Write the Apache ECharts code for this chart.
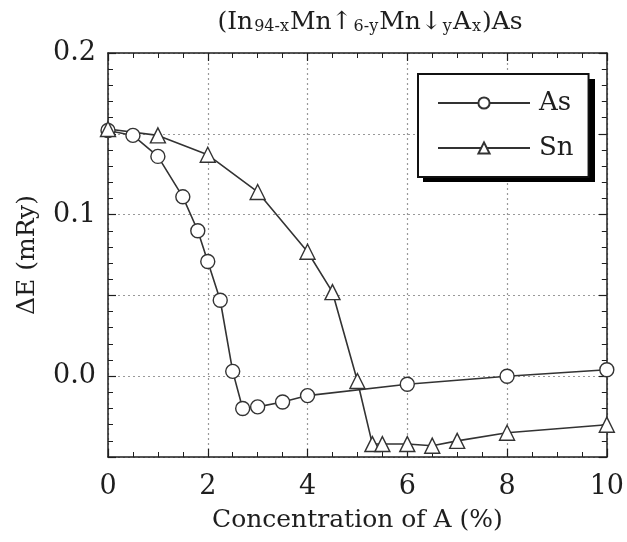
<!DOCTYPE html>
<html>
<head>
<meta charset="utf-8">
<script src="https://cdn.jsdelivr.net/npm/echarts@6/dist/echarts.min.js"></script>
<style>
  html, body { margin: 0; padding: 0; background: #fff; }
  #main { width: 627px; height: 542px; }
</style>
</head>
<body>
<div id="main"></div>
<script>
// concentration (%) / delta E (mRy)
var asX = [0, 0.5, 1.0, 1.5, 1.8, 2.0, 2.25, 2.5, 2.7, 3.0, 3.5, 4.0, 6.0, 8.0, 10.0];
var asY = [0.152, 0.149, 0.136, 0.111, 0.090, 0.071, 0.047, 0.003, -0.020, -0.019, -0.016, -0.012, -0.005, 0.000, 0.004];
var snX = [0, 1.0, 2.0, 3.0, 4.0, 4.5, 5.0, 5.3, 5.5, 6.0, 6.5, 7.0, 8.0, 10.0];
var snY = [0.153, 0.149, 0.137, 0.114, 0.077, 0.052, -0.003, -0.042, -0.042, -0.042, -0.043, -0.040, -0.035, -0.030];
var xTicks = [0, 2, 4, 6, 8, 10];
var yTicks = [0.0, 0.1, 0.2];

var FONT = '"DejaVu Serif", "Liberation Serif", serif';
var INK = '#1e1e1e';

function pairs(xs, ys) {
  return xs.map(function (x, i) { return [x, ys[i]]; });
}

var myChart = echarts.init(document.getElementById('main'));

var tickBase = { show: true, inside: true, length: 8, lineStyle: { color: INK, width: 1.2 } };
var minorBase = { show: true, length: 5, lineStyle: { color: INK, width: 1 } };
var gridDots = { show: true, lineStyle: { color: '#999', type: [2, 3], width: 1.2 } };

var option = {
  backgroundColor: '#fff',
  animation: false,
  title: {
    text: '(In{s|94-x}Mn↑{s|6-y}Mn↓{s|y}A{s|x})As',
    left: 365,
    textAlign: 'center',
    top: 4,
    textStyle: {
      fontFamily: FONT, fontSize: 25, fontWeight: 'normal', color: INK,
      rich: {
        s: { fontFamily: FONT, fontSize: 16, color: INK, verticalAlign: 'bottom', padding: [10, 1, 0, 1] }
      }
    }
  },
  grid: { left: 108, right: 19, top: 53, bottom: 85 },
  // hard black drop shadow behind the legend box
  graphic: [{
    type: 'rect', left: 423, top: 79, z: 3,
    shape: { width: 172, height: 103 },
    style: { fill: '#000' }
  }],
  legend: {
    left: 418, top: 74,
    orient: 'vertical',
    padding: [16, 15, 16, 19],
    itemGap: 19,
    itemWidth: 92,
    itemHeight: 14,
    backgroundColor: '#fff',
    borderColor: '#111',
    borderWidth: 2,
    textStyle: { fontFamily: FONT, fontSize: 26, color: INK, padding: [0, 0, 0, 4] },
    data: ['As', 'Sn']
  },
  xAxis: [{
    type: 'value', min: 0, max: 10, interval: 2,
    name: 'Concentration of A (%)', nameLocation: 'middle', nameGap: 51,
    nameTextStyle: { fontFamily: FONT, fontSize: 25, color: INK },
    axisLine: { show: true, onZero: false, lineStyle: { color: INK, width: 1.5 } },
    axisTick: tickBase,
    minorTick: Object.assign({ splitNumber: 4 }, minorBase),
    axisLabel: {
      margin: 16, fontFamily: FONT, fontSize: 27, color: INK,
      formatter: function (v) { return xTicks.indexOf(v) >= 0 ? String(v) : ''; }
    },
    splitLine: gridDots
  }, {
    type: 'value', min: 0, max: 10, interval: 2, position: 'top',
    axisLine: { show: true, onZero: false, lineStyle: { color: INK, width: 1.5 } },
    axisTick: tickBase,
    minorTick: Object.assign({ splitNumber: 4 }, minorBase),
    axisLabel: { show: false },
    splitLine: { show: false }
  }],
  yAxis: [{
    type: 'value', min: -0.05, max: 0.2, interval: 0.05,
    name: 'ΔE (mRy)', nameLocation: 'middle', nameGap: 68,
    nameTextStyle: { fontFamily: FONT, fontSize: 25, color: INK },
    axisLine: { show: true, onZero: false, lineStyle: { color: INK, width: 1.5 } },
    axisTick: tickBase,
    minorTick: Object.assign({ splitNumber: 5 }, minorBase),
    axisLabel: {
      margin: 12, fontFamily: FONT, fontSize: 27, color: INK,
      formatter: function (v) {
        for (var i = 0; i < yTicks.length; i++) {
          if (Math.abs(v - yTicks[i]) < 1e-6) return yTicks[i].toFixed(1);
        }
        return '';
      }
    },
    splitLine: gridDots
  }, {
    type: 'value', min: -0.05, max: 0.2, interval: 0.05, position: 'right',
    axisLine: { show: true, onZero: false, lineStyle: { color: INK, width: 1.5 } },
    axisTick: tickBase,
    minorTick: Object.assign({ splitNumber: 5 }, minorBase),
    axisLabel: { show: false },
    splitLine: { show: false }
  }],
  series: [{
    name: 'As', type: 'line',
    data: pairs(asX, asY),
    symbol: 'circle', symbolSize: 14,
    lineStyle: { color: '#333', width: 1.6 },
    itemStyle: { color: '#fff', borderColor: '#333', borderWidth: 1.4 }
  }, {
    name: 'Sn', type: 'line',
    data: pairs(snX, snY),
    symbol: 'triangle', symbolSize: 15,
    lineStyle: { color: '#333', width: 1.6 },
    itemStyle: { color: '#fff', borderColor: '#333', borderWidth: 1.4 }
  }]
};
myChart.setOption(option);
</script>
</body>
</html>
